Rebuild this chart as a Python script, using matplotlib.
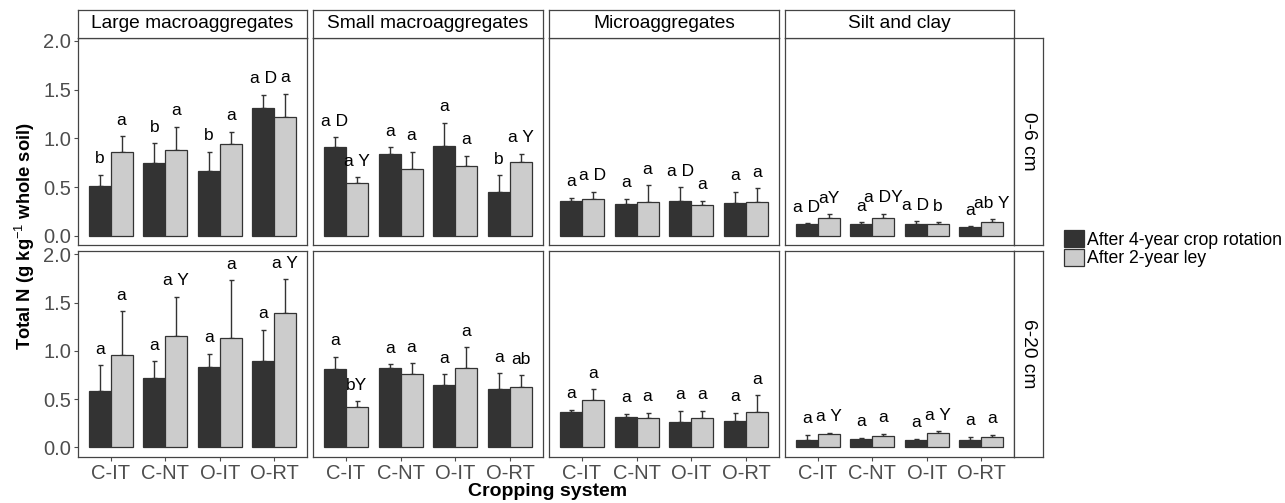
import matplotlib
matplotlib.use("Agg")
import matplotlib.pyplot as plt
from matplotlib.patches import Patch
import numpy as np

plt.rcParams["font.family"] = ["Liberation Sans", "DejaVu Sans"]
plt.rcParams["mathtext.fontset"] = "custom"
plt.rcParams["mathtext.rm"] = "Liberation Sans"

systems = ["C-IT", "C-NT", "O-IT", "O-RT"]
fractions = ["Large macroaggregates", "Small macroaggregates", "Microaggregates", "Silt and clay"]
depths = ["0-6 cm", "6-20 cm"]
series = ["After 4-year crop rotation", "After 2-year ley"]

# 0-6 cm: mean and SE per fraction, crop rotation (rot) and ley
top_rot = [[0.51, 0.75, 0.67, 1.31], [0.91, 0.84, 0.92, 0.45],
           [0.36, 0.33, 0.36, 0.34], [0.12, 0.12, 0.12, 0.09]]
top_rot_se = [[0.12, 0.20, 0.19, 0.14], [0.10, 0.07, 0.24, 0.17],
              [0.03, 0.05, 0.14, 0.11], [0.01, 0.02, 0.03, 0.01]]
top_ley = [[0.86, 0.88, 0.94, 1.22], [0.54, 0.69, 0.72, 0.76],
           [0.38, 0.35, 0.32, 0.35], [0.18, 0.18, 0.12, 0.14]]
top_ley_se = [[0.16, 0.24, 0.13, 0.24], [0.06, 0.17, 0.10, 0.08],
              [0.07, 0.17, 0.04, 0.14], [0.04, 0.05, 0.02, 0.03]]

# 6-20 cm
bot_rot = [[0.58, 0.72, 0.83, 0.89], [0.81, 0.82, 0.65, 0.60],
           [0.37, 0.31, 0.26, 0.27], [0.08, 0.09, 0.08, 0.08]]
bot_rot_se = [[0.27, 0.17, 0.14, 0.33], [0.13, 0.04, 0.11, 0.17],
              [0.02, 0.04, 0.12, 0.09], [0.05, 0.01, 0.01, 0.03]]
bot_ley = [[0.96, 1.15, 1.13, 1.39], [0.42, 0.76, 0.82, 0.62],
           [0.49, 0.30, 0.30, 0.37], [0.14, 0.12, 0.15, 0.11]]
bot_ley_se = [[0.45, 0.41, 0.60, 0.35], [0.06, 0.11, 0.22, 0.13],
              [0.11, 0.06, 0.08, 0.17], [0.01, 0.02, 0.02, 0.02]]

# significance letters
top_rot_lab = [["b", "b", "b", "a D"], ["a D", "a", "a", "b"],
               ["a", "a", "a D", "a"], ["a D", "a", "a D", "a"]]
top_ley_lab = [["a", "a", "a", "a"], ["a Y", "a", "a", "a Y"],
               ["a D", "a", "a", "a"], ["aY", "a DY", "b", "ab Y"]]
bot_rot_lab = [["a", "a", "a", "a"], ["a", "a", "a", "a"],
               ["a", "a", "a", "a"], ["a", "a", "a", "a"]]
bot_ley_lab = [["a", "a Y", "a", "a Y"], ["bY", "a", "a", "ab"],
               ["a", "a", "a", "a"], ["a Y", "a", "a Y", "a"]]

DARK = "#333333"
LIGHT = "#CCCCCC"
EDGE = "#333333"
BORDER = "#444444"
TICKC = "#4D4D4D"

W, H = 1285, 503
fig = plt.figure(figsize=(W / 100, H / 100), dpi=100)


def px_axes(x0, y0, x1, y1):
    return fig.add_axes([x0 / W, 1 - y1 / H, (x1 - x0) / W, (y1 - y0) / H])


def strip(x0, y0, x1, y1, text, rot=0):
    s = px_axes(x0, y0, x1, y1)
    s.set_xticks([])
    s.set_yticks([])
    for sp in s.spines.values():
        sp.set_color(BORDER)
        sp.set_linewidth(0.9)
    s.text(0.5, 0.5, text, ha="center", va="center", rotation=rot,
           fontsize=13.8, color="black", transform=s.transAxes)


col_x = [(78, 307), (313, 543), (549, 779), (785, 1014)]
row_y = [(38, 245), (251, 457)]
row_lim = [(-0.093, 2.03), (-0.10, 2.034)]

data = [(top_rot, top_rot_se, top_ley, top_ley_se, top_rot_lab, top_ley_lab),
        (bot_rot, bot_rot_se, bot_ley, bot_ley_se, bot_rot_lab, bot_ley_lab)]

x = np.arange(1, 5)
for r, (rot, rot_se, ley, ley_se, rlab, llab) in enumerate(data):
    for c in range(4):
        ax = px_axes(col_x[c][0], row_y[r][0], col_x[c][1], row_y[r][1])
        for k, (m, se, lab, col) in enumerate([(rot[c], rot_se[c], rlab[c], DARK),
                                               (ley[c], ley_se[c], llab[c], LIGHT)]):
            xs = x - 0.2 + 0.4 * k
            m = np.array(m)
            se = np.array(se)
            ax.errorbar(xs, m, yerr=[np.zeros(4), se], fmt="none", ecolor=EDGE,
                        elinewidth=1.0, capsize=1.8, capthick=1.0, zorder=1)
            ax.bar(xs, m, width=0.4, color=col, edgecolor=EDGE, linewidth=0.9, zorder=2)
            for xi, top, t in zip(xs, m + se, lab):
                ax.text(xi, top + 0.165, t, ha="center", va="center",
                        fontsize=12.5, color="black")
        ax.set_xlim(0.4, 4.6)
        ax.set_ylim(*row_lim[r])
        for sp in ax.spines.values():
            sp.set_color(BORDER)
            sp.set_linewidth(0.9)
        ax.tick_params(colors=TICKC, length=3, width=0.8, labelsize=14.5, pad=2)
        ax.set_xticks(x)
        if r == 1:
            ax.set_xticklabels(systems, color=TICKC)
        else:
            ax.tick_params(axis="x", length=0, labelbottom=False)
        if c == 0:
            ax.set_yticks([0, 0.5, 1.0, 1.5, 2.0])
            ax.set_yticklabels(["0.0", "0.5", "1.0", "1.5", "2.0"], color=TICKC)
        else:
            ax.set_yticks([])
        if r == 0:
            strip(col_x[c][0], 10, col_x[c][1], 38, fractions[c])
    strip(1014, row_y[r][0], 1043, row_y[r][1], depths[r], rot=270)

fig.text(548 / W, 1 - 492 / H, "Cropping system", ha="center", va="center",
         fontsize=14, fontweight="bold")
fig.text(25 / W, 1 - 236 / H, "Total N (g kg$^{-1}$ whole soil)", ha="center",
         va="center", rotation=90, fontsize=13.2, fontweight="bold")

handles = [Patch(facecolor=DARK, edgecolor=EDGE, linewidth=0.9),
           Patch(facecolor=LIGHT, edgecolor=EDGE, linewidth=0.9)]
fig.legend(handles, series, loc="upper left", bbox_to_anchor=(1064 / W, 1 - 230 / H),
           frameon=False, fontsize=12.7, handlelength=1.12, handleheight=1.12,
           handletextpad=0.2, labelspacing=0.0, borderpad=0, borderaxespad=0)

fig.savefig("out.png", dpi=100)
